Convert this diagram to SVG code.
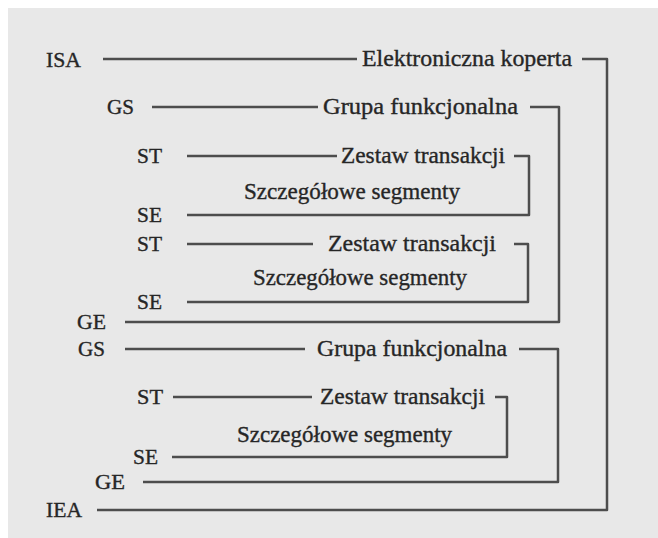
<svg xmlns="http://www.w3.org/2000/svg" width="658" height="538" viewBox="0 0 658 538">
  <style>
    .lbl { font-family: "Liberation Serif", "Times New Roman", serif; font-size: 21px; fill: #262626; stroke: #262626; stroke-width: 0.35; }
    .ttl { font-family: "Liberation Serif", "Times New Roman", serif; font-size: 23px; fill: #262626; stroke: #262626; stroke-width: 0.35; }
    .ln { fill: none; stroke: #4d4d4d; stroke-width: 2.5; stroke-linejoin: round; stroke-linecap: butt; }
  </style>
  <rect width="658" height="538" fill="#ffffff"/>
  <rect x="8" y="8" width="650" height="530" fill="#e8e8e8"/>

  <!-- connectors: lead lines and closing brackets -->
  <g id="connectors" class="ln">
    <!-- interchange envelope -->
    <line x1="103" y1="59" x2="357" y2="59"/>
    <polyline points="582,59 607,59 607,510 97,510"/>
    <!-- first functional group -->
    <line x1="152" y1="107" x2="318" y2="107"/>
    <polyline points="530,107 559,107 559,322 125,322"/>
    <!-- transaction set 1 -->
    <line x1="187" y1="156" x2="337" y2="156"/>
    <polyline points="514,156 529,156 529,215 187,215"/>
    <!-- transaction set 2 -->
    <line x1="187" y1="244" x2="313" y2="244"/>
    <polyline points="514,244 528,244 528,302 187,302"/>
    <!-- second functional group -->
    <line x1="125" y1="349" x2="305" y2="349"/>
    <polyline points="519,349 558,349 558,482 143,482"/>
    <!-- transaction set 3 -->
    <line x1="173" y1="397" x2="312" y2="397"/>
    <polyline points="495,397 507,397 507,457 172,457"/>
  </g>

  <!-- segment codes -->
  <g id="isa"><text class="lbl" x="46" y="67" textLength="35" lengthAdjust="spacingAndGlyphs">ISA</text></g>
  <g id="gs1"><text class="lbl" x="107" y="114" textLength="27" lengthAdjust="spacingAndGlyphs">GS</text></g>
  <g id="st1"><text class="lbl" x="137" y="163" textLength="25" lengthAdjust="spacingAndGlyphs">ST</text></g>
  <g id="se1"><text class="lbl" x="137" y="222" textLength="25" lengthAdjust="spacingAndGlyphs">SE</text></g>
  <g id="st2"><text class="lbl" x="137" y="251" textLength="25" lengthAdjust="spacingAndGlyphs">ST</text></g>
  <g id="se2"><text class="lbl" x="137" y="309" textLength="25" lengthAdjust="spacingAndGlyphs">SE</text></g>
  <g id="ge1"><text class="lbl" x="77" y="329" textLength="29" lengthAdjust="spacingAndGlyphs">GE</text></g>
  <g id="gs2"><text class="lbl" x="78" y="356" textLength="27" lengthAdjust="spacingAndGlyphs">GS</text></g>
  <g id="st3"><text class="lbl" x="137" y="404" textLength="26" lengthAdjust="spacingAndGlyphs">ST</text></g>
  <g id="se3"><text class="lbl" x="133" y="464" textLength="25" lengthAdjust="spacingAndGlyphs">SE</text></g>
  <g id="ge2"><text class="lbl" x="95" y="489" textLength="30" lengthAdjust="spacingAndGlyphs">GE</text></g>
  <g id="iea"><text class="lbl" x="46" y="517" textLength="36" lengthAdjust="spacingAndGlyphs">IEA</text></g>

  <!-- structure names -->
  <g id="envelope"><text class="ttl" x="362" y="66" textLength="210" lengthAdjust="spacingAndGlyphs">Elektroniczna koperta</text></g>
  <g id="group1"><text class="ttl" x="323" y="114" textLength="195" lengthAdjust="spacingAndGlyphs">Grupa funkcjonalna</text></g>
  <g id="set1"><text class="ttl" x="341" y="163" textLength="164" lengthAdjust="spacingAndGlyphs">Zestaw transakcji</text></g>
  <g id="detail1"><text class="ttl" x="244" y="199" textLength="216" lengthAdjust="spacingAndGlyphs">Szczegółowe segmenty</text></g>
  <g id="set2"><text class="ttl" x="328" y="251" textLength="168" lengthAdjust="spacingAndGlyphs">Zestaw transakcji</text></g>
  <g id="detail2"><text class="ttl" x="253" y="285" textLength="214" lengthAdjust="spacingAndGlyphs">Szczegółowe segmenty</text></g>
  <g id="group2"><text class="ttl" x="317" y="356" textLength="190" lengthAdjust="spacingAndGlyphs">Grupa funkcjonalna</text></g>
  <g id="set3"><text class="ttl" x="320" y="404" textLength="165" lengthAdjust="spacingAndGlyphs">Zestaw transakcji</text></g>
  <g id="detail3"><text class="ttl" x="237" y="442" textLength="215" lengthAdjust="spacingAndGlyphs">Szczegółowe segmenty</text></g>
</svg>
